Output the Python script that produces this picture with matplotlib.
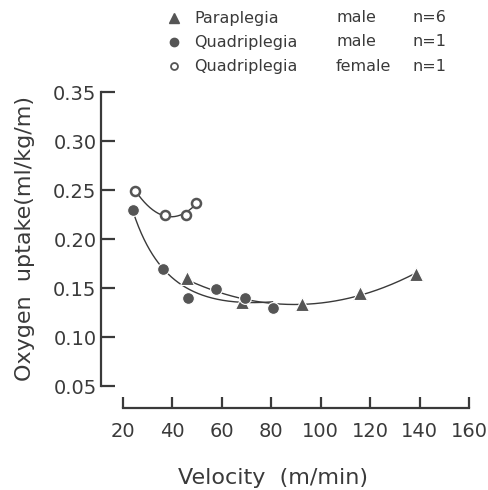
import matplotlib
matplotlib.use("Agg")
import matplotlib.pyplot as plt
from matplotlib.lines import Line2D
import numpy as np

# data
para_v = [46, 68, 92.5, 116, 138.5]
para_o2 = [0.160, 0.136, 0.134, 0.145, 0.164]
quad_m_v = [24, 36, 46.5, 57.5, 69.5, 80.5]
quad_m_o2 = [0.230, 0.169, 0.140, 0.149, 0.140, 0.130]
quad_f_v = [25, 37, 45.5, 49.5]
quad_f_o2 = [0.249, 0.225, 0.2245, 0.237]

groups = ["Paraplegia", "Quadriplegia", "Quadriplegia"]
sexes = ["male", "male", "female"]
counts = ["n=6", "n=1", "n=1"]

xticks = [20, 40, 60, 80, 100, 120, 140, 160]
yticks = [0.05, 0.10, 0.15, 0.20, 0.25, 0.30, 0.35]

ink = "#3a3a3a"
mark = "#555555"

W, H = 488, 490
fig = plt.figure(figsize=(W / 100, H / 100), dpi=100)
ax = fig.add_axes([100.7 / W, 82 / H, (469 - 100.7) / W, (408 - 92) / H])
ax.set_xlim(10.98, 160)
ax.set_ylim(0.0276, 0.35)


def fit_curve(x, y, basis):
    x = np.asarray(x, float)
    A = np.column_stack([f(x) for f in basis])
    coef, *_ = np.linalg.lstsq(A, np.asarray(y, float), rcond=None)
    xs = np.linspace(x.min(), x.max(), 200)
    return xs, np.column_stack([f(xs) for f in basis]) @ coef


hyper = [lambda t: 1 / t, lambda t: np.ones_like(t), lambda t: t]
quad = [lambda t: t ** 2, lambda t: t, lambda t: np.ones_like(t)]

xs, ys = fit_curve(para_v, para_o2, quad)
ax.plot(xs, ys, color=ink, lw=1.0, zorder=2)
xs, ys = fit_curve(quad_m_v, quad_m_o2, hyper)
ax.plot(xs, ys, color=ink, lw=1.0, zorder=2)
xs, ys = fit_curve(quad_f_v, quad_f_o2, quad)
ax.plot(xs, ys, color=ink, lw=1.0, zorder=2)

ax.plot(para_v, para_o2, ls="none", marker="^", ms=10, color=mark,
        mec="white", mew=0.8, zorder=3, clip_on=False)
ax.plot(quad_m_v, quad_m_o2, ls="none", marker="o", ms=8.5, color=mark,
        mec="white", mew=0.8, zorder=3, clip_on=False)
ax.plot(quad_f_v, quad_f_o2, ls="none", marker="o", ms=6.5, mfc="white",
        mec=mark, mew=1.8, zorder=3, clip_on=False)

for s in ["top", "right"]:
    ax.spines[s].set_visible(False)
for s in ["left", "bottom"]:
    ax.spines[s].set_linewidth(1.6)
    ax.spines[s].set_color(ink)
ax.spines["left"].set_bounds(0.05, 0.35)
ax.spines["bottom"].set_bounds(20, 160)

ax.set_xticks(xticks)
ax.set_xticklabels([str(t) for t in xticks])
ax.set_yticks(yticks)
ax.set_yticklabels([f"{t:.2f}" for t in yticks])
ax.tick_params(axis="x", direction="in", length=8, width=1.6, color=ink,
               pad=10, labelsize=14, labelcolor=ink)
ax.tick_params(axis="y", direction="in", length=10, width=1.6, color=ink,
               pad=3, labelsize=14, labelcolor=ink)

fig.text(273 / W, 1 - 478 / H, "Velocity  (m/min)", ha="center", va="center",
         fontsize=16, color=ink)
fig.text(25 / W, 1 - 238 / H, "Oxygen  uptake(ml/kg/m)", rotation=90,
         ha="center", va="center", fontsize=16, color=ink)

# legend drawn by hand in figure pixels
styles = [dict(marker="^", ms=7, color=mark, mec=mark),
          dict(marker="o", ms=6, color=mark, mec=mark),
          dict(marker="o", ms=5, mfc="white", mec=mark, mew=1.3)]
for i in range(3):
    yrow = 1 - (18 + 24 * i) / H
    fig.add_artist(Line2D([174 / W], [yrow], ls="none", **styles[i]))
    fig.text(194 / W, yrow, groups[i], va="center", fontsize=11.5, color=ink)
    fig.text(336 / W, yrow, sexes[i], va="center", fontsize=11.5, color=ink)
    fig.text(413 / W, yrow, counts[i], va="center", fontsize=11.5, color=ink)

fig.savefig("out.png", dpi=100)
